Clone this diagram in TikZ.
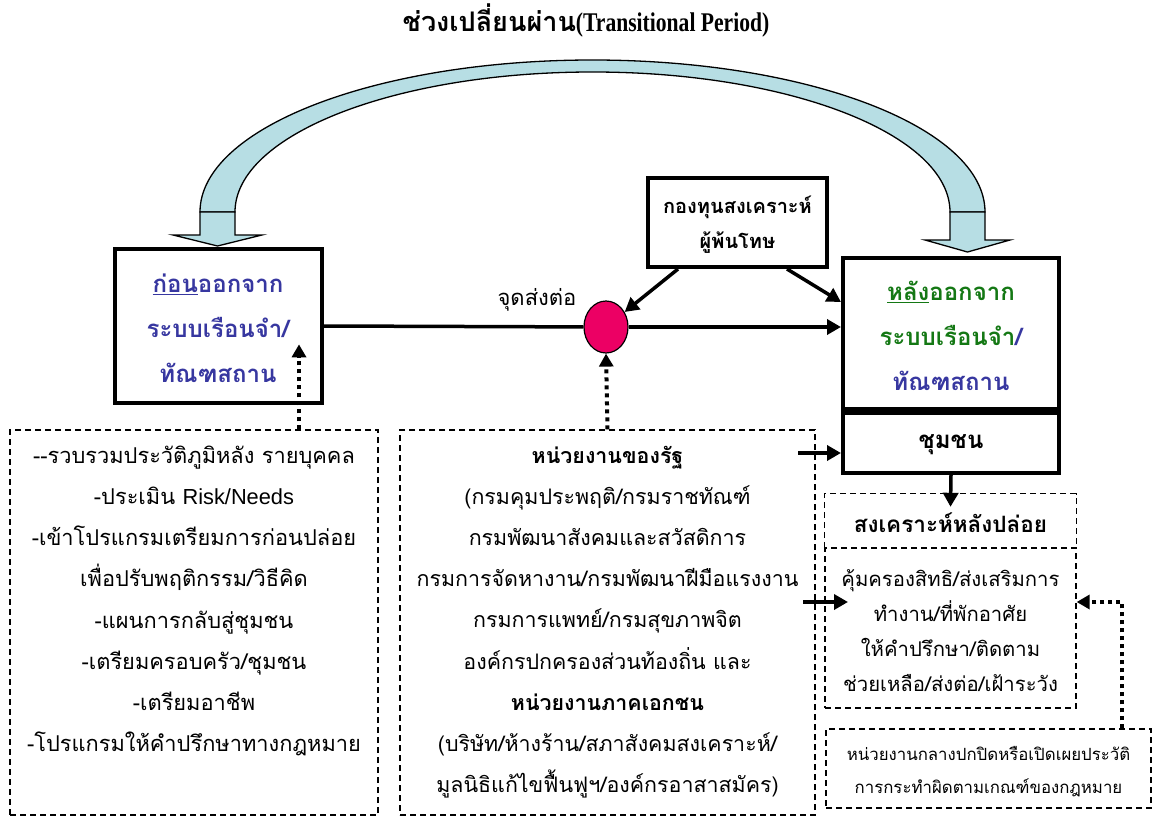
\documentclass[tikz,border=0pt]{standalone}
\usepackage{fontspec}
\setmainfont{Liberation Serif}
\newfontfamily\thai[Script=Thai]{Loma}
\newfontfamily\titlelat{Liberation Serif}[FakeStretch=0.8]
\newfontfamily\arial{Liberation Sans}
\usetikzlibrary{arrows.meta,shapes.geometric}
\definecolor{arcblue}{RGB}{183,222,228}
\definecolor{boxblue}{RGB}{55,55,160}
\definecolor{boxgreen}{RGB}{20,120,20}
\definecolor{dotpink}{RGB}{236,0,100}
\begin{document}
\begin{tikzpicture}[x=1pt,y=-1pt,
  tbox/.style={draw=black, line width=4pt, fill=white, inner sep=0pt},
  dline/.style={draw=black, line width=1.3pt, dash pattern=on 6pt off 4pt},
  dbox/.style={dline, inner sep=0pt},
  band/.style={fill=arcblue, draw=black, line width=1.3pt, line join=miter},
  conn/.style={line width=3.5pt},
  arr/.style={line width=3.5pt, -{Triangle[length=14pt,width=15pt]}},
  dotarr/.style={line width=4pt, dash pattern=on 4pt off 4pt, -{Triangle[length=13pt,width=14pt]}},
  reg/.style={font=\thai\fontsize{21.8}{41.2}\selectfont, align=center, inner sep=0pt},
  boldtxt/.style={font=\thai\bfseries\fontsize{24}{45}\selectfont, align=center, inner sep=0pt}
]
\useasboundingbox (0,0) rectangle (1152,816);

% title
\node[font=\fontsize{27}{27}\selectfont\bfseries, inner sep=0pt] (title) at (586,20)
  {{\thai ช่วงเปลี่ยนผ่าน}{\titlelat (Transitional Period)}};

% curved transitional arrow
\filldraw[band] (200,212) arc[start angle=180,end angle=360,x radius=392.5,y radius=152]
  -- (950,212) arc[start angle=360,end angle=180,x radius=357.5,y radius=140] -- cycle;
\filldraw[band] (200,212) -- (235,212) -- (235,235) -- (262,235) -- (217.5,246)
  -- (173,235) -- (200,235) -- cycle;
\filldraw[band] (950,212) -- (985,212) -- (985,240) -- (1010,240) -- (967.5,252)
  -- (925,240) -- (950,240) -- cycle;

% main boxes
\node[tbox, minimum width=207, minimum height=154] (before) at (218.5,326) {};
\node[boldtxt, text=boxblue] (beforetxt) at (218,328)
  {\underline{ก่อน}ออกจาก\\ระบบเรือนจำ/\\ทัณฑสถาน};

\node[tbox, minimum width=179, minimum height=89] (fund) at (737.5,222.5) {};
\node[font=\thai\bfseries\fontsize{20}{35}\selectfont, align=center, inner sep=0pt] (fundtxt) at (737.5,225)
  {กองทุนสงเคราะห์\\ผู้พ้นโทษ};

\node[tbox, minimum width=216, minimum height=151] (after) at (951,333.5) {};
\node[boldtxt, text=boxblue] (aftertxt) at (951,336)
  {{\color{boxgreen}\underline{หลัง}ออกจาก}\\{\color{boxgreen}ระบบเรือนจำ}/\\ทัณฑสถาน};

\node[tbox, minimum width=216, minimum height=60] (community) at (951,443) {};
\node[boldtxt] (communitytxt) at (951,445) {ชุมชน};

% hub
\node[ellipse, draw=black, line width=1.2pt, fill=dotpink, minimum width=44, minimum height=52, inner sep=0pt] (hub) at (606,327) {};
\node[font=\thai\fontsize{22}{22}\selectfont, inner sep=0pt] (hublabel) at (537,300) {จุดส่งต่อ};

% dashed boxes
\node[dbox, minimum width=368, minimum height=385] (leftbox) at (194,622.5) {};
\node[reg] (lefttxt) at (194,601)
  {--รวบรวมประวัติภูมิหลัง รายบุคคล\\
   -ประเมิน {\arial Risk/Needs}\\
   -เข้าโปรแกรมเตรียมการก่อนปล่อย\\
   เพื่อปรับพฤติกรรม/วิธีคิด\\
   -แผนการกลับสู่ชุมชน\\
   -เตรียมครอบครัว/ชุมชน\\
   -เตรียมอาชีพ\\
   -โปรแกรมให้คำปรึกษาทางกฎหมาย};

\node[dbox, minimum width=415, minimum height=385] (midbox) at (607.5,622.5) {};
\node[reg, font=\thai\fontsize{21.4}{41.2}\selectfont] (midtxt) at (607.5,622)
  {\textbf{หน่วยงานของรัฐ}\\
   (กรมคุมประพฤติ/กรมราชทัณฑ์\\
   กรมพัฒนาสังคมและสวัสดิการ\\
   กรมการจัดหางาน/กรมพัฒนาฝีมือแรงงาน\\
   กรมการแพทย์/กรมสุขภาพจิต\\
   องค์กรปกครองส่วนท้องถิ่น และ\\
   \textbf{หน่วยงานภาคเอกชน}\\
   (บริษัท/ห้างร้าน/สภาสังคมสงเคราะห์/\\
   มูลนิธิแก้ไขฟื้นฟูฯ/องค์กรอาสาสมัคร)};

\node[inner sep=0pt, minimum width=251, minimum height=54] (post) at (950.5,521) {};
\draw[dline] (post.south west) |- (post.north east) -- (post.south east);
\node[font=\thai\bfseries\fontsize{22.5}{22.5}\selectfont, inner sep=0pt] (posttxt) at (950.5,523) {สงเคราะห์หลังปล่อย};

\node[dbox, minimum width=251, minimum height=160] (content) at (950.5,628) {};
\node[font=\thai\fontsize{20.3}{35}\selectfont, align=center, inner sep=0pt] (contenttxt) at (950.5,631)
  {คุ้มครองสิทธิ/ส่งเสริมการ\\ทำงาน/ที่พักอาศัย\\ให้คำปรึกษา/ติดตาม\\ช่วยเหลือ/ส่งต่อ/เฝ้าระวัง};

\node[dbox, minimum width=325, minimum height=79] (lawbox) at (988.5,768.5) {};
\node[font=\thai\fontsize{16.8}{33}\selectfont, align=center, inner sep=0pt] (lawtxt) at (988.5,772)
  {หน่วยงานกลางปกปิดหรือเปิดเผยประวัติ\\การกระทำผิดตามเกณฑ์ของกฎหมาย};

% connectors
\draw[conn] (before.east) -- (hub);
\draw[arr] (hub) -- (hub -| after.west);
\draw[arr] ([xshift=-59.5pt]fund.south) -- (hub);
\draw[arr] ([xshift=49.5pt]fund.south) -- ([yshift=31.5pt]after.west);
\draw[dotarr] ([xshift=105pt]leftbox.north) -- ++(0,-85);
\draw[dotarr] (midbox.north) -- (hub.south);
\coordinate (m1) at (798,453);
\coordinate (m2) at (803,602);
\draw[arr] (m1) -- (m1 -| community.west);
\draw[arr] (m2) -- ++(45,0);
\draw[arr] (community.south) -- ([yshift=-13pt]post.north);
\draw[dotarr] ([xshift=133.5pt]lawbox.north) |- ([yshift=26pt]content.east);
\end{tikzpicture}
\end{document}
